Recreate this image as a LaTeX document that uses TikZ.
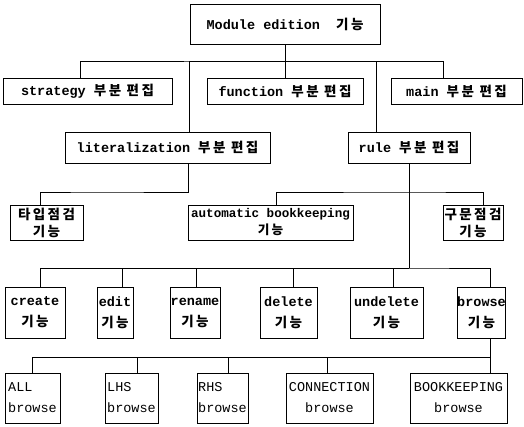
\documentclass[tikz,border=0pt]{standalone}
\usepackage{fontspec}
\setmonofont{Liberation Mono}
\newfontfamily\kr[Scale=1.0,LetterSpace=18]{Noto Sans CJK KR}
\newcommand\K[1]{{\kr #1}}
\tikzset{
  box/.style={draw, line width=0.9pt, inner sep=0pt, align=center,
    font=\ttfamily\bfseries\fontsize{13.5}{21}\selectfont},
  leaf/.style={box, font=\ttfamily\fontsize{13.5}{21}\selectfont},
  link/.style={line width=0.8pt}
}
\begin{document}
\begin{tikzpicture}[x=1pt, y=-1pt]
\useasboundingbox (0,0) rectangle (524,427);

% level 0
\node[box, minimum width=190, minimum height=40] (top) at (285,24) {Module edition\ \ \K{기능}};

% level 1
\node[box, minimum width=169, minimum height=26] (strategy) at (87.5,91) {strategy \K{부분 편집}};
\node[box, minimum width=156, minimum height=26] (function) at (285,91) {function \K{부분 편집}};
\node[box, minimum width=131, minimum height=26] (main) at (456.5,91) {main \K{부분 편집}};

% level 2
\node[box, minimum width=205, minimum height=31] (lit) at (167.5,147.5) {literalization \K{부분 편집}};
\node[box, minimum width=122, minimum height=31] (rule) at (409,147.5) {rule \K{부분 편집}};

% level 3
\node[box, minimum width=73, minimum height=35] (type) at (46.5,222.5) {\K{타입점검}\\[-4pt]\K{기능}};
\node[box, minimum width=165, minimum height=35, font=\ttfamily\bfseries\fontsize{12.6}{21}\selectfont] (auto) at (270.5,222.5) {automatic bookkeeping\\[-4pt]\K{기능}};
\node[box, minimum width=60, minimum height=35] (syn) at (473,222.5) {\K{구문점검}\\[-4pt]\K{기능}};

% level 4
\node[box, minimum width=60, minimum height=51] (create) at (35,312.5) {create\\\K{기능}};
\node[box, minimum width=36, minimum height=51] (edit) at (115,312.5) {edit\\\K{기능}};
\node[box, minimum width=50, minimum height=51] (rename) at (195,312.5) {rename\\\K{기능}};
\node[box, minimum width=57, minimum height=51] (delete) at (288.5,312.5) {delete\\\K{기능}};
\node[box, minimum width=73, minimum height=51] (undelete) at (386.5,312.5) {undelete\\\K{기능}};
\node[box, minimum width=47, minimum height=51] (browse) at (481.5,312.5) {browse\\\K{기능}};

% level 5
\node[leaf, align=left, minimum width=55, minimum height=50] (all) at (32.5,398) {ALL\\browse};
\node[leaf, align=left, minimum width=53, minimum height=50] (lhs) at (131.5,398) {LHS\\browse};
\node[leaf, align=left, minimum width=51, minimum height=50] (rhs) at (222.5,398) {RHS\\browse};
\node[leaf, minimum width=87, minimum height=50] (conn) at (329.5,398) {CONNECTION\\browse};
\node[leaf, minimum width=97, minimum height=50] (bk) at (458.5,398) {BOOKKEEPING\\browse};

% bus rows
\coordinate (bus1) at (285,61);
\coordinate (busL) at (100,192);
\coordinate (busR) at (409,192);
\coordinate (bus3) at (409,268);
\coordinate (bus4) at (490,357);

% connectors
\draw[link] (top.south) -- (function.north);
\draw[link] ([xshift=-7.5pt]strategy.north) |- (bus1) -| ([xshift=-13.5pt]main.north);
\draw[link] ([xshift=21.5pt]lit.north) |- (bus1);
\draw[link] ([xshift=-33pt]rule.north) |- (bus1);

\draw[link] ([xshift=20.5pt]lit.south) |- (busL) -| ([xshift=-6.5pt]type.north);
\draw[link] ([xshift=5.5pt]auto.north) |- (busR) -| ([xshift=10pt]syn.north);
\draw[link] (rule.south) -- (bus3);

\draw[link] ([xshift=5pt]create.north) |- (bus3) -| ([xshift=8.5pt]browse.north);
\draw[link] ([xshift=7pt]edit.north) |- (bus3);
\draw[link] ([xshift=1pt]rename.north) |- (bus3);
\draw[link] ([xshift=4.5pt]delete.north) |- (bus3);
\draw[link] ([xshift=6.5pt]undelete.north) |- (bus3);

\draw[link] ([xshift=8.5pt]browse.south) -- ([xshift=31.5pt]bk.north);
\draw[link] (all.north) |- (bus4);
\draw[link] ([xshift=5.5pt]lhs.north) |- (bus4);
\draw[link] ([xshift=5.5pt]rhs.north) |- (bus4);
\draw[link] ([xshift=-2.5pt]conn.north) |- (bus4);
\end{tikzpicture}
\end{document}
